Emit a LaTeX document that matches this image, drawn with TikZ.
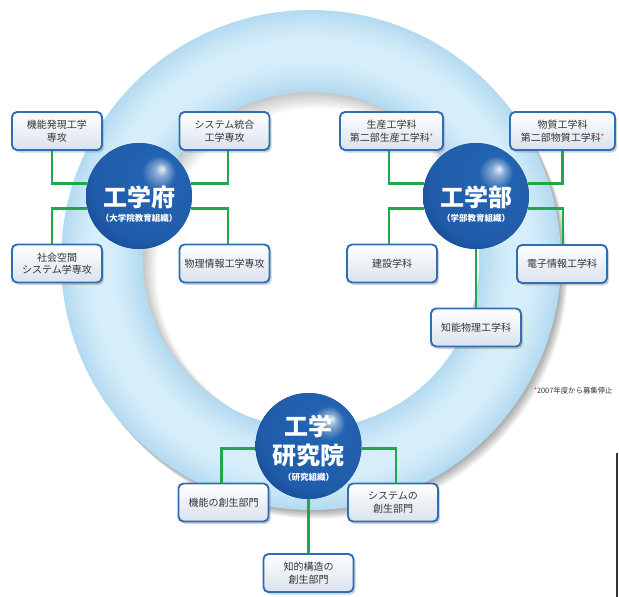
\documentclass[tikz,border=0pt]{standalone}
\usepackage{fontspec}
\setmainfont{Noto Sans CJK JP}
\usetikzlibrary{shadows,calc}
\definecolor{ringedge}{HTML}{B3DAF1}
\definecolor{ringmid}{HTML}{D8EFFA}
\definecolor{gline}{HTML}{1FA84A}
\definecolor{boxborder}{HTML}{2F6DB5}
\definecolor{boxbot}{HTML}{DAE2EE}
\definecolor{txt}{HTML}{333333}
\definecolor{bhi}{HTML}{B5D0F0}
\definecolor{bmid}{HTML}{2363B1}
\definecolor{bdark}{HTML}{123F88}
\pgfdeclareradialshading{sphere}{\pgfpoint{11bp}{13bp}}{color(0bp)=(white!70!bhi); color(3bp)=(bmid!55!white); color(8bp)=(bmid); color(27bp)=(bmid!80!bdark); color(38bp)=(bdark); color(50bp)=(bdark)}
\tikzset{
  unitbox/.style={draw=boxborder, line width=1.9pt, rounded corners=5pt,
    top color=white, bottom color=boxbot, minimum width=90pt, minimum height=38pt,
    align=center, font=\fontsize{10}{12.5}\selectfont, text=txt, inner sep=2pt,
    drop shadow={shadow xshift=2pt, shadow yshift=-2.5pt, opacity=0.35, fill=gray}},
  conn/.style={draw=gline, line width=2.8pt},
  ballnode/.style={circle, minimum size=106pt, inner sep=0pt, shade, shading=sphere, draw=none},
  balltitle/.style={text=white, font=\fontsize{24}{28}\selectfont\bfseries, inner sep=0pt, align=center},
  ballsub/.style={text=white, font=\fontsize{8.5}{10}\selectfont\bfseries, inner sep=0pt},
}
\begin{document}
\begin{tikzpicture}[x=1pt,y=-1pt]
\useasboundingbox (0,0) rectangle (619,597);
\fill[white] (0,0) rectangle (619,597);
\coordinate (C) at (311,260);
% ring shadow
\foreach \i in {10,...,1} {
  \fill[black, opacity=0.035] ($(C)+(0.7*\i,0.9*\i)$) circle (250);
}
% ring
\foreach \r in {250,249,...,170} {
  \pgfmathsetmacro\t{100*cos(90*abs(\r-210)/40)}
  \fill[ringmid!\t!ringedge] (C) circle (\r);
}
% hole with inner shadow
\begin{scope}
  \clip (C) circle (168);
  \fill[black!22] (C) circle (168);
  \foreach \i in {1,...,14} {
    \pgfmathsetmacro\g{22*(1-\i/14)}
    \fill[black!\g] ($(C)+(0.6*\i,0.8*\i)$) circle (168-0.4*\i);
  }
\end{scope}

% balls
\node[ballnode] (fu) at (139,196) {};
\node[ballnode] (bu) at (476,196) {};
\node[ballnode] (ken) at (308.5,446) {};

% boxes
\node[unitbox] (b1) at (57,131) {機能発現工学\\専攻};
\node[unitbox] (b2) at (224.5,131) {システム統合\\工学専攻};
\node[unitbox] (b3) at (57,263.5) {社会空間\\システム学専攻};
\node[unitbox] (b4) at (224.5,263.5) {物理情報工学専攻};
\node[unitbox, minimum width=103pt] (b5) at (391.5,131) {生産工学科\\第二部生産工学科\textcolor{red}{\raisebox{2pt}{\fontsize{7}{7}\selectfont *}}};
\node[unitbox, minimum width=105pt] (b6) at (562.5,131) {物質工学科\\第二部物質工学科\textcolor{red}{\raisebox{2pt}{\fontsize{7}{7}\selectfont *}}};
\node[unitbox] (b7) at (392,263.5) {建設学科};
\node[unitbox] (b8) at (562,264) {電子情報工学科};
\node[unitbox] (b9) at (476,327.5) {知能物理工学科};
\node[unitbox] (b10) at (223.5,502.5) {機能の創生部門};
\node[unitbox] (b11) at (393,502.5) {システムの\\創生部門};
\node[unitbox] (b12) at (308.5,573) {知的構造の\\創生部門};

% connectors
\draw[conn] ([xshift=-5pt]b1.south) |- (fu.166);
\draw[conn] ([xshift=-5pt]b3.north) |- (fu.194);
\draw[conn] ([xshift=3.5pt]b2.south) |- (fu.14);
\draw[conn] ([xshift=3.5pt]b4.north) |- (fu.346);
\draw[conn] ([xshift=-2.5pt]b5.south) |- (bu.166);
\draw[conn] (b6.south) |- (bu.14);
\draw[conn] ([xshift=-3pt]b7.north) |- (bu.194);
\draw[conn] ([xshift=1pt]b8.north) |- (bu.346);
\draw[conn] (bu.south) -- (b9.north);
\draw[conn] ([xshift=-2pt]b10.north) |- (ken.183);
\draw[conn] ([xshift=3pt]b11.north) |- (ken.357);
\draw[conn] (ken.south) -- (b12.north);

% redraw balls on top of connector ends
\node[ballnode] at (fu) {};
\node[ballnode] at (bu) {};
\node[ballnode] at (ken) {};

% ball texts
\node[balltitle] (fut) at ($(fu)+(0,1)$) {工学府};
\node[ballsub] (fus) at ($(fu)+(0,22.5)$) {（大学院教育組織）};
\node[balltitle] (but) at ($(bu)+(0,1)$) {工学部};
\node[ballsub] (bus) at ($(bu)+(0,22.5)$) {（学部教育組織）};
\node[balltitle] (kent1) at ($(ken)+(0,-20)$) {工学};
\node[balltitle] (kent2) at ($(ken)+(0,9.5)$) {研究院};
\node[ballsub] (kens) at ($(ken)+(0,31.5)$) {（研究組織）};

% footnote
\node[anchor=west, inner sep=0pt, font=\fontsize{7.4}{9}\selectfont, text=txt] (note) at (534,391) {\textcolor{red}{\raisebox{1pt}{\fontsize{6}{6}\selectfont *}}2007年度から募集停止};
\draw[line width=1.2pt, black!80] (617,453) -- (617,597);
\end{tikzpicture}
\end{document}
